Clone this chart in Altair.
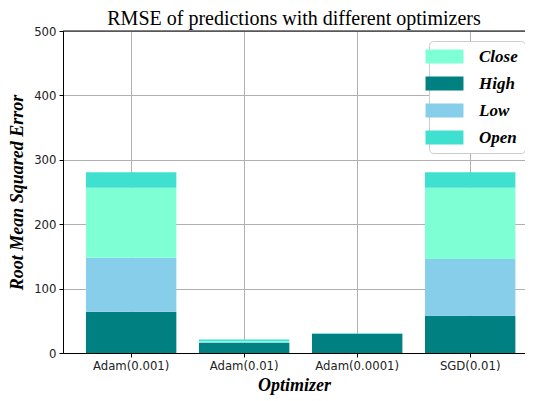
import altair as alt
import pandas as pd

optimizers = ["Adam(0.001)", "Adam(0.01)", "Adam(0.0001)", "SGD(0.01)"]
series = ["High", "Low", "Close", "Open"]
high = [64, 16, 30, 58]
low = [84, 1, 0.3, 88]
close = [108.5, 1.5, 0.3, 110.5]
open_ = [24, 2.5, 0.5, 24]

legend_order = ["Close", "High", "Low", "Open"]
colors = ["#7FFFD4", "#008080", "#87CEEB", "#40E0D0"]
y_ticks = [0, 100, 200, 300, 400, 500]

rows = []
for i, opt in enumerate(optimizers):
    for k, (name, vals) in enumerate(zip(series, [high, low, close, open_])):
        rows.append({"Optimizer": opt, "Series": name, "Value": vals[i], "ord": k})
df = pd.DataFrame(rows)

serif = "Liberation Serif"
sans = "DejaVu Sans"

bars = alt.Chart(df).mark_bar().encode(
    x=alt.X("Optimizer:N", sort=optimizers,
            scale=alt.Scale(paddingInner=0.2, paddingOuter=0.144, align=0.705),
            axis=alt.Axis(title="Optimizer", labelAngle=0, bandPosition=0.5)),
    y=alt.Y("Value:Q", stack="zero",
            scale=alt.Scale(domain=[0, 500], nice=False),
            axis=alt.Axis(title="Root Mean Squared Error", values=y_ticks)),
    color=alt.Color("Series:N",
                    scale=alt.Scale(domain=legend_order, range=colors),
                    legend=alt.Legend(
                        title=None, orient="none", legendX=366, legendY=10,
                        padding=7, strokeColor="#cccccc", fillColor="white",
                        cornerRadius=4,
                        symbolType="M-2.71,-1H2.71V1H-2.71Z", symbolSize=196,
                        symbolStrokeWidth=0, symbolOpacity=1,
                        labelFont=serif, labelFontSize=17, labelFontWeight="bold",
                        labelFontStyle="italic", labelColor="black",
                        labelOffset=26, rowPadding=9)),
    order=alt.Order("ord:Q"),
)

top_spine = alt.Chart(pd.DataFrame({"v": [500]})).mark_rule(
    color="black", strokeWidth=1
).encode(y="v:Q")

chart = alt.layer(bars, top_spine).properties(
    width=462, height=322,
    title=alt.Title("RMSE of predictions with different optimizers",
                    font=serif, fontSize=20, fontWeight="normal", color="black",
                    anchor="middle", offset=-3),
    autosize=alt.AutoSizeParams(type="none"),
    padding={"left": 55, "top": 23, "right": 0, "bottom": 46},
).configure_view(
    stroke=None
).configure_axis(
    grid=True, gridColor="#b0b0b0", gridWidth=1, zindex=1,
    domainColor="black", tickColor="black", tickSize=4,
    labelFont=sans, labelFontSize=11.7, labelColor="#222222", labelPadding=3,
    titleFont=serif, titleFontSize=18, titleFontWeight="bold",
    titleFontStyle="italic", titleColor="black",
).configure_axisX(titlePadding=5).configure_axisY(titlePadding=7)

chart.save("out.html", embed_options={"renderer": "svg", "actions": False})
